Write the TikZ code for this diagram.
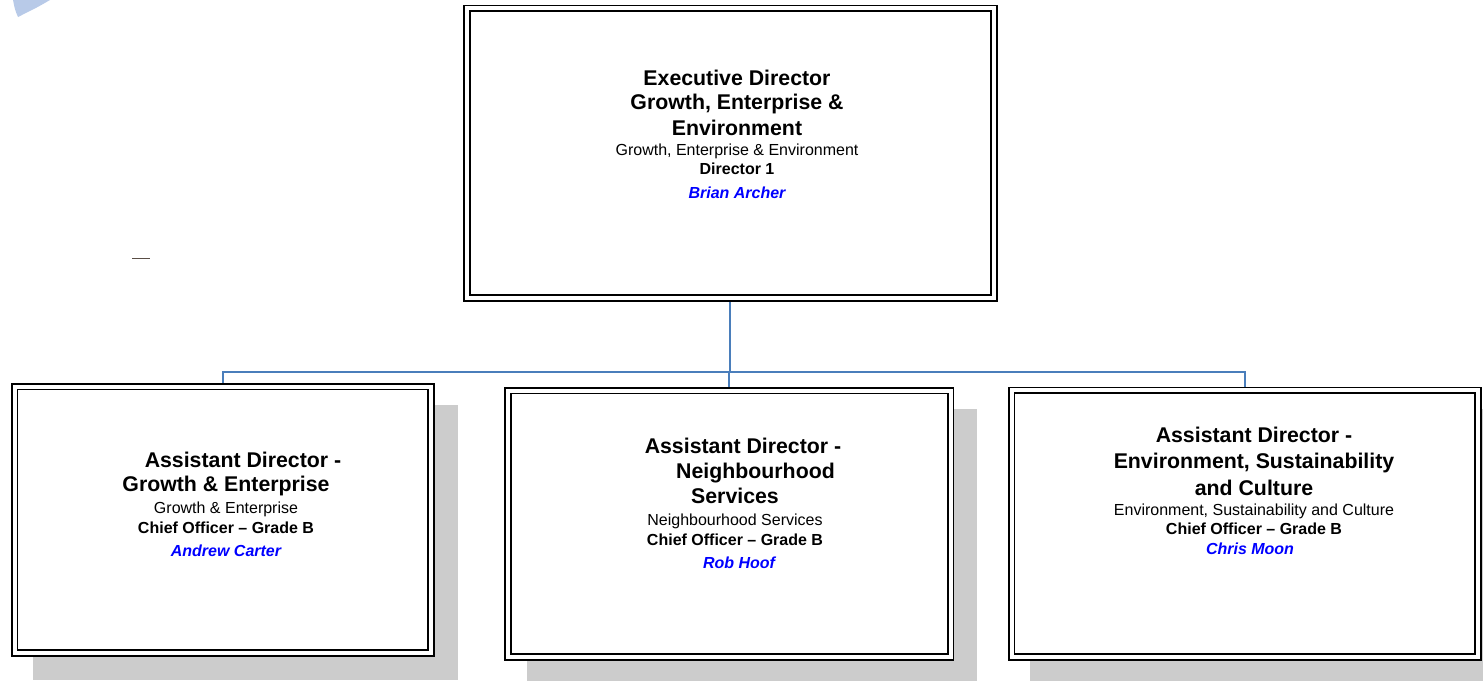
\documentclass[tikz,border=0pt]{standalone}
\usepackage{fontspec}
\setmainfont{Liberation Sans}
\usetikzlibrary{calc}
\pgfdeclarelayer{background}
\pgfsetlayers{background,main}
\definecolor{connblue}{RGB}{74,126,187}
\definecolor{shadowgray}{RGB}{204,204,204}
\definecolor{nameblue}{RGB}{0,0,255}
\definecolor{arrowblue}{RGB}{184,202,232}
\definecolor{tickgray}{RGB}{90,78,70}
\newcommand\dtitle{\fontsize{21.3}{19}\selectfont\bfseries}
\newcommand\dsub{\fontsize{16}{19}\selectfont\mdseries}
\newcommand\dgrade{\fontsize{16}{19}\selectfont\bfseries}
\newcommand\dname[1]{{\fontsize{16}{19}\selectfont\bfseries\itshape\color{nameblue}#1}}
\newcommand\stack[1]{\vtop{\baselineskip=19pt\lineskiplimit=-100pt\lineskip=0pt\halign{\hfil##\hfil\cr#1\crcr}}}
\newcommand\gap[1]{\noalign{\vskip#1}}
\begin{document}
\begin{tikzpicture}[x=1pt,y=-1pt,
  orgbox/.style={rectangle, draw=black, fill=white, line width=1.8pt,
    double=white, double distance=4pt, inner sep=0pt, outer sep=0pt,
    anchor=north west},
  conn/.style={draw=connblue, line width=2pt},
  txt/.style={inner sep=0pt, outer sep=0pt, anchor=north},
  shadowbox/.style={fill=shadowgray}
  ]
\useasboundingbox (0,0) rectangle (1483,680);
\clip (0,0) rectangle (1483,680);

% decorations
\fill[arrowblue] (13,0) -- (50,0) .. controls (38,7) .. (18,17) .. controls (15,10) .. (13,0) -- cycle;
\draw[tickgray, line width=1.2pt] (132,258.3) -- (150,258.3);

% boxes
\node[orgbox, minimum width=526.6pt, minimum height=289.6pt] (T) at (467.1,8.3) {};
\node[orgbox, minimum width=416.7pt, minimum height=266.4pt] (L) at (14.5,386.5) {};
\node[orgbox, minimum width=442.7pt, minimum height=266.4pt] (M) at (507.8,390.5) {};
\node[orgbox, minimum width=466.2pt, minimum height=266.5pt] (R) at (1011.5,390.3) {};

\begin{pgfonlayer}{background}
  \foreach \n in {L,M,R}
    \fill[shadowbox] ([shift={(18.8,18.8)}]\n.north west) rectangle ([shift={(26.6,26.6)}]\n.south east);
  \coordinate (bus) at ($(T.south)+(0,74.1)$);
  \draw[conn] (T.south) -- (bus);
  \draw[conn] (L.north) |- (bus) -| (R.north);
  \draw[conn] (M.north) -- (M.north |- bus);
\end{pgfonlayer}

% texts
\node[txt] (tT) at (737,69.75) {\stack{\dtitle Executive Director\cr\gap{5pt}
  \dtitle Growth, Enterprise \&\cr\gap{7pt}
  \dtitle Environment\cr\gap{1pt}
  \dsub Growth, Enterprise \& Environment\cr
  \dgrade Director 1\cr\gap{5pt}
  \dname{Brian Archer}}};

\node[txt] (tL) at (226,451.75) {\stack{\dtitle\hspace*{34pt}Assistant Director -\cr\gap{5pt}
  \dtitle Growth \& Enterprise\cr\gap{3pt}
  \dsub Growth \& Enterprise\cr\gap{1pt}
  \dgrade Chief Officer \textendash{} Grade B\cr\gap{4pt}
  \dname{Andrew Carter}}};

\node[txt] (tM) at (735,437.75) {\stack{\dtitle\hspace*{16pt}Assistant Director -\cr\gap{6pt}
  \dtitle\hspace*{41pt}Neighbourhood\cr\gap{6pt}
  \dtitle Services\cr\gap{3pt}
  \dsub Neighbourhood Services\cr\gap{1pt}
  \dgrade Chief Officer \textendash{} Grade B\cr\gap{4pt}
  \hspace*{8pt}\dname{Rob Hoof}}};

\node[txt] (tR) at (1254,426.75) {\stack{\dtitle Assistant Director -\cr\gap{7pt}
  \dtitle Environment, Sustainability\cr\gap{8pt}
  \dtitle and Culture\cr\gap{1pt}
  \dsub Environment, Sustainability and Culture\cr
  \dgrade Chief Officer \textendash{} Grade B\cr\gap{1pt}
  \dname{Chris Moon}\hspace*{8pt}}};
\end{tikzpicture}
\end{document}
